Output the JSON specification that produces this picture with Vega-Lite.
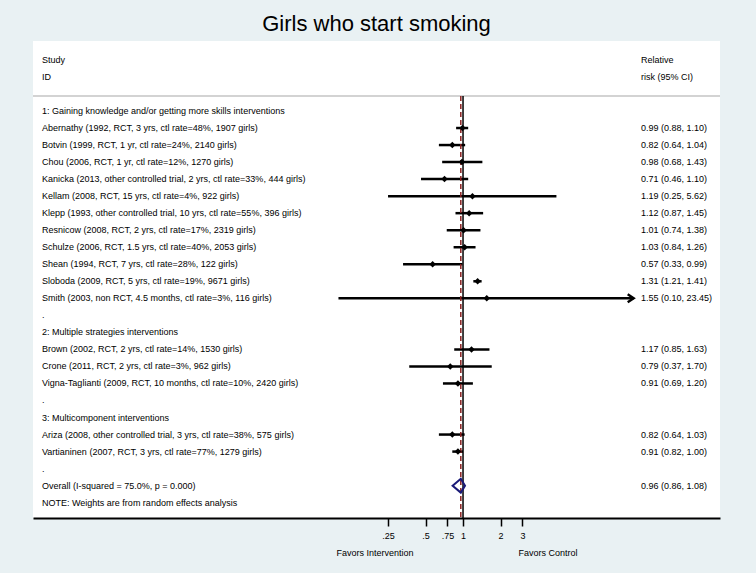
{
  "$schema": "https://vega.github.io/schema/vega-lite/v6.json",
  "width": 687,
  "height": 477,
  "autosize": {"type": "none"},
  "padding": {"left": 33, "top": 41, "right": 36, "bottom": 55},
  "background": "#e9f1f3",
  "config": {
    "view": {"fill": "white", "stroke": null},
    "text": {"font": "Liberation Sans", "fontSize": 9, "color": "#000000"}
  },
  "datasets": {
    "rows": [
      {"row": -3, "label": "Study", "right": "Relative", "kind": "head"},
      {"row": -2, "label": "ID", "right": "risk (95% CI)", "kind": "head"},
      {"row": 0, "label": "1: Gaining knowledge and/or getting more skills interventions", "kind": "group"},
      {"row": 1, "label": "Abernathy (1992, RCT, 3 yrs, ctl rate=48%, 1907 girls)", "kind": "study", "est": 0.99, "lo": 0.88, "hi": 1.10, "right": "0.99 (0.88, 1.10)"},
      {"row": 2, "label": "Botvin (1999, RCT, 1 yr, ctl rate=24%, 2140 girls)", "kind": "study", "est": 0.82, "lo": 0.64, "hi": 1.04, "right": "0.82 (0.64, 1.04)"},
      {"row": 3, "label": "Chou (2006, RCT, 1 yr, ctl rate=12%, 1270 girls)", "kind": "study", "est": 0.98, "lo": 0.68, "hi": 1.43, "right": "0.98 (0.68, 1.43)"},
      {"row": 4, "label": "Kanicka (2013, other controlled trial, 2 yrs, ctl rate=33%, 444 girls)", "kind": "study", "est": 0.71, "lo": 0.46, "hi": 1.10, "right": "0.71 (0.46, 1.10)"},
      {"row": 5, "label": "Kellam (2008, RCT, 15 yrs, ctl rate=4%, 922 girls)", "kind": "study", "est": 1.19, "lo": 0.25, "hi": 5.62, "right": "1.19 (0.25, 5.62)"},
      {"row": 6, "label": "Klepp (1993, other controlled trial, 10 yrs, ctl rate=55%, 396 girls)", "kind": "study", "est": 1.12, "lo": 0.87, "hi": 1.45, "right": "1.12 (0.87, 1.45)"},
      {"row": 7, "label": "Resnicow (2008, RCT, 2 yrs, ctl rate=17%, 2319 girls)", "kind": "study", "est": 1.01, "lo": 0.74, "hi": 1.38, "right": "1.01 (0.74, 1.38)"},
      {"row": 8, "label": "Schulze (2006, RCT, 1.5 yrs, ctl rate=40%, 2053 girls)", "kind": "study", "est": 1.03, "lo": 0.84, "hi": 1.26, "right": "1.03 (0.84, 1.26)"},
      {"row": 9, "label": "Shean (1994, RCT, 7 yrs, ctl rate=28%, 122 girls)", "kind": "study", "est": 0.57, "lo": 0.33, "hi": 0.99, "right": "0.57 (0.33, 0.99)"},
      {"row": 10, "label": "Sloboda (2009, RCT, 5 yrs, ctl rate=19%, 9671 girls)", "kind": "study", "est": 1.31, "lo": 1.21, "hi": 1.41, "right": "1.31 (1.21, 1.41)"},
      {"row": 11, "label": "Smith (2003, non RCT, 4.5 months, ctl rate=3%, 116 girls)", "kind": "study", "est": 1.55, "lo": 0.10, "hi": 23.45, "right": "1.55 (0.10, 23.45)"},
      {"row": 12, "label": ".", "kind": "blank"},
      {"row": 13, "label": "2: Multiple strategies interventions", "kind": "group"},
      {"row": 14, "label": "Brown (2002, RCT, 2 yrs, ctl rate=14%, 1530 girls)", "kind": "study", "est": 1.17, "lo": 0.85, "hi": 1.63, "right": "1.17 (0.85, 1.63)"},
      {"row": 15, "label": "Crone (2011, RCT, 2 yrs, ctl rate=3%, 962 girls)", "kind": "study", "est": 0.79, "lo": 0.37, "hi": 1.70, "right": "0.79 (0.37, 1.70)"},
      {"row": 16, "label": "Vigna-Taglianti (2009, RCT, 10 months, ctl rate=10%, 2420 girls)", "kind": "study", "est": 0.91, "lo": 0.69, "hi": 1.20, "right": "0.91 (0.69, 1.20)"},
      {"row": 17, "label": ".", "kind": "blank"},
      {"row": 18, "label": "3: Multicomponent interventions", "kind": "group"},
      {"row": 19, "label": "Ariza (2008, other controlled trial, 3 yrs, ctl rate=38%, 575 girls)", "kind": "study", "est": 0.82, "lo": 0.64, "hi": 1.03, "right": "0.82 (0.64, 1.03)"},
      {"row": 20, "label": "Vartianinen (2007, RCT, 3 yrs, ctl rate=77%, 1279 girls)", "kind": "study", "est": 0.91, "lo": 0.82, "hi": 1.00, "right": "0.91 (0.82, 1.00)"},
      {"row": 21, "label": ".", "kind": "blank"},
      {"row": 22, "label": "Overall  (I-squared = 75.0%, p = 0.000)", "kind": "overall", "est": 0.96, "lo": 0.86, "hi": 1.08, "right": "0.96 (0.86, 1.08)"},
      {"row": 23, "label": "NOTE: Weights are from random effects analysis", "kind": "note"}
    ]
  },
  "data": {"name": "rows"},
  "layer": [
    {
      "transform": [{"filter": "datum.kind == 'study'"}],
      "mark": {"type": "rule", "color": "#000000", "strokeWidth": 2.5},
      "encoding": {
        "x": {"field": "lo", "type": "quantitative", "title": null,
          "scale": {"type": "log", "domain": [0.000353, 115.6], "nice": false},
          "axis": {"values": [0.25, 0.5, 0.75, 1, 2, 3], "title": null, "grid": false,
            "labelExpr": "datum.value == 0.25 ? '.25' : datum.value == 0.5 ? '.5' : datum.value == 0.75 ? '.75' : format(datum.value, 'd')",
            "domainColor": "#000000", "domainWidth": 2, "tickColor": "#000000", "tickWidth": 1.5, "tickSize": 8,
            "labelFont": "Liberation Sans", "labelFontSize": 9, "labelColor": "#000000", "labelPadding": 5,
            "labelFlush": false, "labelOverlap": false}},
        "x2": {"field": "hi"},
        "y": {"field": "row", "type": "quantitative", "title": null,
          "scale": {"domain": [-4.11, 23.9], "reverse": true, "nice": false, "zero": false}, "axis": null}
      }
    },
    {
      "data": {"values": [{}]},
      "mark": {"type": "rule", "color": "#c4c4c4", "strokeWidth": 1.7},
      "encoding": {"y": {"datum": -0.88, "type": "quantitative"}}
    },
    {
      "data": {"values": [{}]},
      "mark": {"type": "rule", "color": "#000000", "strokeWidth": 1.5},
      "encoding": {
        "x": {"datum": 1, "type": "quantitative"},
        "y": {"datum": -0.88, "type": "quantitative"},
        "y2": {"datum": 23.9}
      }
    },
    {
      "transform": [{"filter": "datum.kind == 'overall'"}],
      "mark": {"type": "rule", "color": "#8b2020", "strokeWidth": 1.5, "strokeDash": [5, 3]},
      "encoding": {
        "x": {"field": "est", "type": "quantitative", "title": null},
        "y": {"datum": -0.88, "type": "quantitative"},
        "y2": {"datum": 23.9}
      }
    },
    {
      "transform": [{"filter": "datum.kind == 'study'"}],
      "mark": {"type": "point", "shape": "diamond", "filled": true, "color": "#000000", "size": 42, "opacity": 1},
      "encoding": {
        "x": {"field": "est", "type": "quantitative", "title": null},
        "y": {"field": "row", "type": "quantitative", "title": null}
      }
    },
    {
      "transform": [{"filter": "datum.kind == 'study' && datum.hi > 10"}],
      "mark": {"type": "point", "shape": "M-1.5,-1L0,0L-1.5,1", "filled": false, "stroke": "#000000", "strokeWidth": 2.4, "size": 64, "opacity": 1},
      "encoding": {
        "x": {"field": "hi", "type": "quantitative", "title": null},
        "y": {"field": "row", "type": "quantitative", "title": null}
      }
    },
    {
      "transform": [{"filter": "datum.kind == 'overall'"}],
      "mark": {"type": "point", "shape": "M-1,0L0,-0.85L0.51,0L0,0.85Z", "filled": false, "stroke": "#1a1a78", "strokeWidth": 2, "size": 269, "opacity": 1},
      "encoding": {
        "x": {"field": "est", "type": "quantitative", "title": null},
        "y": {"field": "row", "type": "quantitative", "title": null}
      }
    },
    {
      "mark": {"type": "text", "align": "left", "baseline": "middle"},
      "encoding": {
        "x": {"datum": 0.000417, "type": "quantitative"},
        "y": {"field": "row", "type": "quantitative", "title": null},
        "text": {"field": "label"}
      }
    },
    {
      "transform": [{"filter": "isValid(datum.right)"}],
      "mark": {"type": "text", "align": "left", "baseline": "middle"},
      "encoding": {
        "x": {"datum": 26.85, "type": "quantitative"},
        "y": {"field": "row", "type": "quantitative", "title": null},
        "text": {"field": "right"}
      }
    },
    {
      "data": {"values": [{}]},
      "mark": {"type": "text", "text": "Girls who start smoking", "align": "center", "baseline": "middle", "fontSize": 22},
      "encoding": {
        "x": {"datum": 0.202, "type": "quantitative"},
        "y": {"datum": -5.11, "type": "quantitative"}
      }
    },
    {
      "data": {"values": [{}]},
      "mark": {"type": "text", "text": "Favors Intervention", "align": "center", "baseline": "middle"},
      "encoding": {
        "x": {"datum": 0.1966, "type": "quantitative"},
        "y": {"datum": 25.95, "type": "quantitative"}
      }
    },
    {
      "data": {"values": [{}]},
      "mark": {"type": "text", "text": "Favors Control", "align": "center", "baseline": "middle"},
      "encoding": {
        "x": {"datum": 4.81, "type": "quantitative"},
        "y": {"datum": 25.95, "type": "quantitative"}
      }
    }
  ]
}
